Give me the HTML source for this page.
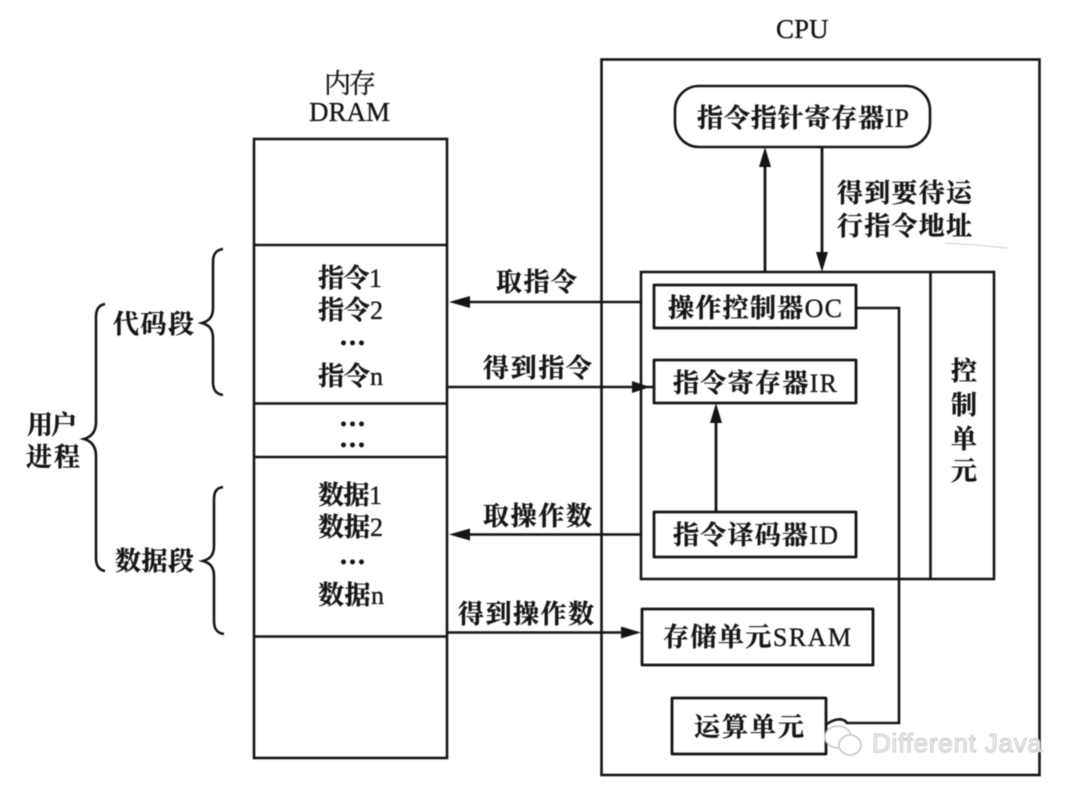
<!DOCTYPE html>
<html lang="zh">
<head>
<meta charset="utf-8">
<title>CPU and DRAM</title>
<style>
html,body{margin:0;padding:0;background:#fff;width:1080px;height:787px;overflow:hidden}
svg{display:block;filter:blur(.5px)}
text{font-family:"Liberation Serif","Noto Serif CJK SC",serif;font-size:26px;font-weight:700;fill:#151515;stroke:#151515;stroke-width:.35}
tspan{font-weight:400}
.l{font-weight:400;font-size:27px;stroke-width:.35}
.d{font-size:28px}
.wm{font-family:"Liberation Sans","DejaVu Sans",sans-serif;font-weight:400;font-size:26px;fill:#f2f2f2;stroke:#b8b8b8;stroke-width:.7}
.s{fill:none;stroke:#151515;stroke-width:2.6}
.t{fill:none;stroke:#151515;stroke-width:2.8;stroke-linejoin:round}
.a{fill:#151515}
</style>
</head>
<body>
<svg width="1080" height="787" viewBox="0 0 1080 787" xmlns="http://www.w3.org/2000/svg">
<!-- DRAM -->
<rect class="s" x="254" y="139" width="193" height="619"/>
<path class="s" d="M254 245H447M254 403.500H447M254 457H447M254 636.500H447"/>
<!-- CPU -->
<rect class="s" x="601.500" y="59.500" width="438" height="715.500"/>
<rect class="s" x="675" y="86" width="255" height="61" rx="24"/>
<rect class="s" x="641" y="272" width="353" height="307"/>
<path class="s" d="M930.500 272V579"/>
<rect class="t" x="654" y="285" width="202" height="43"/>
<rect class="t" x="654" y="360" width="202" height="43"/>
<rect class="t" x="654" y="512" width="202" height="45"/>
<rect class="t" x="642" y="609" width="231" height="56"/>
<rect class="t" x="672" y="698" width="154" height="56"/>
<!-- OC connector -->
<path class="s" d="M856 308H899V723H847C843 717 834 719 827 724"/>
<!-- vertical arrows -->
<path class="t" d="M765 272V165M822 147V255M716 512V420"/>
<path class="a" d="M765 147L759 167H771ZM822 272L816 252H828ZM716 403L710 423H722Z"/>
<!-- horizontal arrows -->
<path class="s" d="M641 302H460M447 387H654M641 534.500H460M447 632.500H625"/>
<path class="a" d="M449 302L470 296V308ZM650 387L632 381V393ZM449 534.500L470 528.500V540.500ZM641 632.500L621 626.500V638.500Z"/>
<!-- scan marks -->
<path d="M945 243L975 245L1008 248" fill="none" stroke="#d0d0d0" stroke-width="1"/>
<!-- braces -->
<path class="s" d="M223 249C216 250 213 254 213 262V308C213 317 209 321 202 323C209 325 213 329 213 338V382C213 390 216 394 223 395"/>
<path class="s" d="M223 487C216 488 214 492 214 500V546C214 555 210 559 203 561C210 563 214 567 214 576V621C214 629 217 633 224 634"/>
<path class="s" d="M105 304C99 305 96 309 96 317V422C96 432 91 437 84 439C91 441 96 446 96 456V558C96 566 99 570 105 571"/>
<!-- titles -->
<text class="l" x="324" y="93" textLength="52">内存</text>
<text class="l" x="309" y="121">DRAM</text>
<text class="l" x="776" y="38">CPU</text>
<!-- left labels -->
<text x="113" y="333" textLength="81">代码段</text>
<text x="115" y="570" textLength="79">数据段</text>
<text x="27" y="434" textLength="50">用户</text>
<text x="26" y="466" textLength="54">进程</text>
<!-- memory contents -->
<text x="318" y="287" textLength="64">指令<tspan>1</tspan></text>
<text x="318" y="319" textLength="65">指令<tspan>2</tspan></text>
<text class="d" x="340" y="345" letter-spacing="2">...</text>
<text x="318" y="385" textLength="65">指令<tspan>n</tspan></text>
<text class="d" x="340" y="426" letter-spacing="2">...</text>
<text class="d" x="340" y="447" letter-spacing="2">...</text>
<text x="318" y="504" textLength="64">数据<tspan>1</tspan></text>
<text x="318" y="536" textLength="65">数据<tspan>2</tspan></text>
<text class="d" x="340" y="564" letter-spacing="2">...</text>
<text x="318" y="604" textLength="66">数据<tspan>n</tspan></text>
<!-- arrow labels -->
<text x="496" y="291" textLength="81">取指令</text>
<text x="483" y="377" textLength="109">得到指令</text>
<text x="483" y="525" textLength="109">取操作数</text>
<text x="458" y="623" textLength="136">得到操作数</text>
<text x="837" y="202" textLength="135">得到要待运</text>
<text x="837" y="235" textLength="135">行指令地址</text>
<!-- boxes -->
<text x="697" y="127" textLength="212">指令指针寄存器<tspan>IP</tspan></text>
<text x="668" y="317" textLength="174">操作控制器<tspan>OC</tspan></text>
<text x="673" y="392" textLength="164">指令寄存器<tspan>IR</tspan></text>
<text x="673" y="544" textLength="165">指令译码器<tspan>ID</tspan></text>
<text x="663" y="646" textLength="188">存储单元<tspan>SRAM</tspan></text>
<text x="694" y="736" textLength="110">运算单元</text>
<text x="951" y="380">控</text>
<text x="951" y="414">制</text>
<text x="951" y="448">单</text>
<text x="951" y="480">元</text>
<!-- watermark -->
<g fill="#fff" stroke="#c4c4c4" stroke-width="1.500">
<ellipse cx="838" cy="737" rx="13" ry="11"/>
<ellipse cx="850" cy="745" rx="11" ry="10"/>
</g>
<text class="wm" x="872" y="752" textLength="170">Different Java</text>
</svg>
</body>
</html>
